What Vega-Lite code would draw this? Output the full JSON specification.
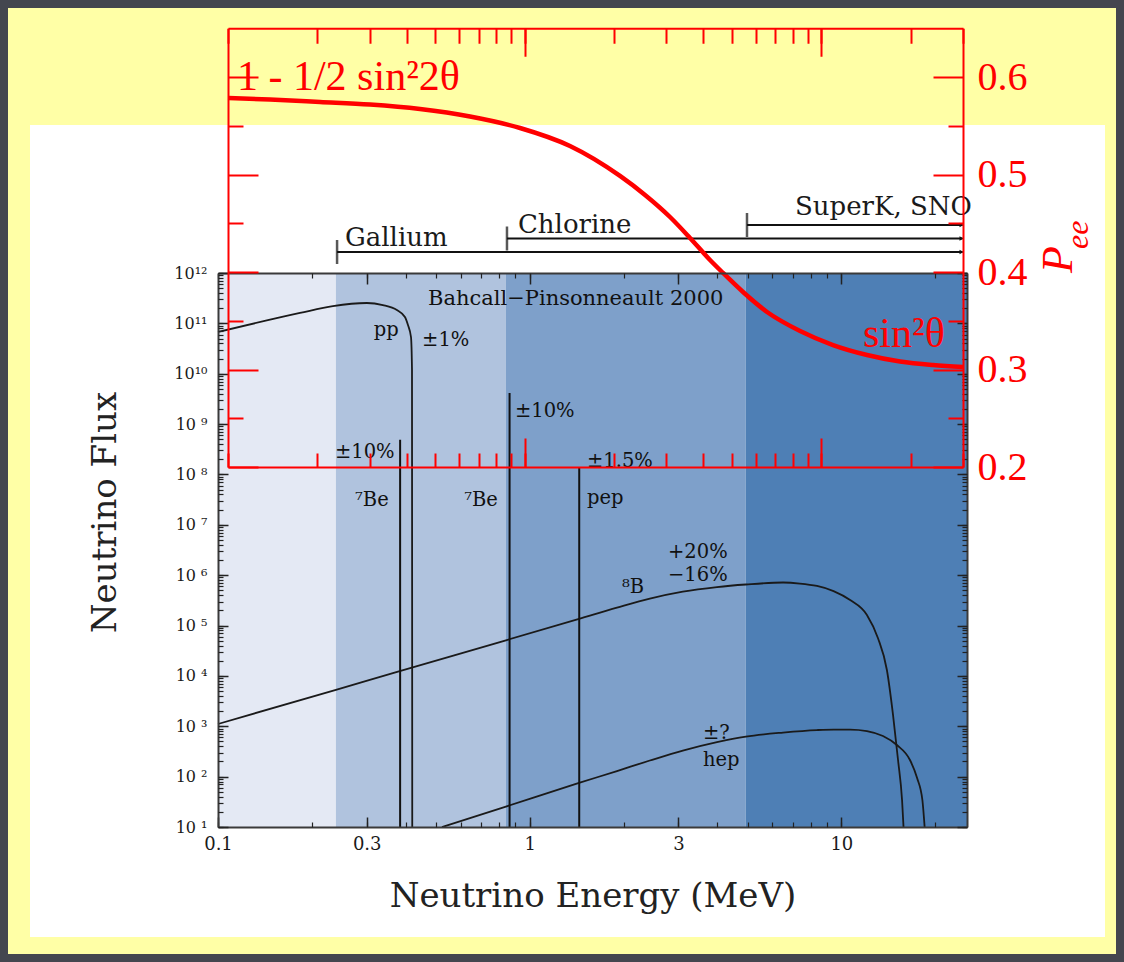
{
  "$schema": "https://vega.github.io/schema/vega-lite/v6.json",
  "background": "#44464f",
  "padding": 8,
  "spacing": 0,
  "bounds": "flush",
  "columns": 3,
  "config": {
    "axis": {"grid": false, "labelFlush": false, "labelOverlap": false, "labelBound": false},
    "view": {"stroke": null}
  },
  "datasets": {
    "bands": [
      {"band": "A", "E0": 0.1, "E1": 0.239},
      {"band": "B", "E0": 0.239, "E1": 0.839},
      {"band": "C", "E0": 0.839, "E1": 4.93},
      {"band": "D", "E0": 4.93, "E1": 25.3}
    ],
    "pp": [
      {"E": 0.1, "F": 6.74e10},
      {"E": 0.1833, "F": 1.61e11},
      {"E": 0.2337, "F": 2.21e11},
      {"E": 0.3004, "F": 2.54e11},
      {"E": 0.338, "F": 2.31e11},
      {"E": 0.3749, "F": 1.84e11},
      {"E": 0.3979, "F": 1.34e11},
      {"E": 0.4069, "F": 9.27e10},
      {"E": 0.4161, "F": 5.36e10},
      {"E": 0.4192, "F": 1.19e10},
      {"E": 0.42, "F": 10}
    ],
    "b8": [
      {"E": 0.1, "F": 1110},
      {"E": 0.239, "F": 5300},
      {"E": 0.378, "F": 12200},
      {"E": 0.839, "F": 51000},
      {"E": 1.44, "F": 136000},
      {"E": 1.906, "F": 227000},
      {"E": 2.43, "F": 344000},
      {"E": 3.1, "F": 473000},
      {"E": 3.99, "F": 582000},
      {"E": 4.94, "F": 653000},
      {"E": 6.5, "F": 715000},
      {"E": 7.36, "F": 683000},
      {"E": 8.35, "F": 610000},
      {"E": 9.44, "F": 484000},
      {"E": 10.67, "F": 321000},
      {"E": 12.08, "F": 162000},
      {"E": 13.1, "F": 56500},
      {"E": 14.0, "F": 13100},
      {"E": 14.65, "F": 1670},
      {"E": 15.2, "F": 214},
      {"E": 15.66, "F": 34},
      {"E": 15.83, "F": 10}
    ],
    "hep": [
      {"E": 0.523, "F": 10},
      {"E": 0.839, "F": 25.5},
      {"E": 1.44, "F": 75},
      {"E": 1.906, "F": 129},
      {"E": 2.43, "F": 209},
      {"E": 3.1, "F": 330},
      {"E": 3.99, "F": 486},
      {"E": 4.94, "F": 625},
      {"E": 6.5, "F": 751},
      {"E": 8.35, "F": 841},
      {"E": 9.44, "F": 861},
      {"E": 10.67, "F": 861},
      {"E": 12.08, "F": 804},
      {"E": 13.6, "F": 640},
      {"E": 15.07, "F": 424},
      {"E": 16.6, "F": 214},
      {"E": 17.5, "F": 94},
      {"E": 18.2, "F": 34},
      {"E": 18.5, "F": 10}
    ],
    "lines": [
      {"source": "7Be", "E": 0.384, "F": 4.86e8},
      {"source": "7Be", "E": 0.862, "F": 4.16e9},
      {"source": "pep", "E": 1.442, "F": 1.35e8}
    ],
    "notes": [
      {"label": "Bahcall−Pinsonneault 2000", "E": 0.4718, "F": 3.05e11},
      {"label": "pp", "E": 0.3158, "F": 7.38e10},
      {"label": "±1%", "E": 0.4516, "F": 4.67e10},
      {"label": "±10%", "E": 0.897, "F": 1.82e9},
      {"label": "±10%", "E": 0.2373, "F": 2.79e8},
      {"label": "±1.5%", "E": 1.527, "F": 1.85e8},
      {"label": "⁷Be", "E": 0.2752, "F": 3.11e7},
      {"label": "⁷Be", "E": 0.6163, "F": 3.11e7},
      {"label": "pep", "E": 1.527, "F": 3.4e7},
      {"label": "+20%", "E": 2.778, "F": 2.88e6},
      {"label": "−16%", "E": 2.778, "F": 1.01e6},
      {"label": "⁸B", "E": 1.978, "F": 5.8e5},
      {"label": "±?", "E": 3.597, "F": 735},
      {"label": "hep", "E": 3.597, "F": 214}
    ],
    "detectors": [
      {"detector": "SuperK, SNO", "threshold": 4.98},
      {"detector": "Chlorine", "threshold": 0.8456},
      {"detector": "Gallium", "threshold": 0.241}
    ],
    "detlabels": [
      {"detector": "SuperK, SNO", "E": 7.1},
      {"detector": "Chlorine", "E": 0.917},
      {"detector": "Gallium", "E": 0.2555}
    ],
    "pee": [
      {"E": 0.1, "P": 0.5785},
      {"E": 0.1385, "P": 0.5769},
      {"E": 0.2042, "P": 0.5744},
      {"E": 0.3011, "P": 0.5718},
      {"E": 0.4437, "P": 0.5672},
      {"E": 0.6541, "P": 0.5595},
      {"E": 0.9643, "P": 0.5477},
      {"E": 1.421, "P": 0.5292},
      {"E": 2.095, "P": 0.4985},
      {"E": 2.544, "P": 0.479},
      {"E": 3.088, "P": 0.4564},
      {"E": 3.607, "P": 0.4349},
      {"E": 4.212, "P": 0.4123},
      {"E": 4.66, "P": 0.399},
      {"E": 5.442, "P": 0.3795},
      {"E": 6.557, "P": 0.359},
      {"E": 8.472, "P": 0.3395},
      {"E": 10.94, "P": 0.3251},
      {"E": 14.25, "P": 0.3149},
      {"E": 18.41, "P": 0.3082},
      {"E": 23.77, "P": 0.3046},
      {"E": 30, "P": 0.3026}
    ],
    "rednotes": [
      {"label": "1 - 1/2 sin²2θ", "E": 0.1072, "P": 0.5867},
      {"label": "sin²θ", "E": 13.81, "P": 0.3231}
    ],
    "peelabel": [{"label": "P", "E": 69.9, "P": 0.399}],
    "peesub": [{"label": "ee", "E": 79.2, "P": 0.4236}],
    "empty": []
  },
  "concat": [
    {"width": 22, "height": 117, "view": {"fill": "#ffffa6", "stroke": null}, "data": {"name": "empty"}, "mark": "point", "encoding": {}},
    {"width": 1075, "height": 117, "view": {"fill": "#ffffa6", "stroke": null}, "data": {"name": "empty"}, "mark": "point", "encoding": {}},
    {"width": 11, "height": 117, "view": {"fill": "#ffffa6", "stroke": null}, "data": {"name": "empty"}, "mark": "point", "encoding": {}},
    {"width": 22, "height": 812, "view": {"fill": "#ffffa6", "stroke": null}, "data": {"name": "empty"}, "mark": "point", "encoding": {}},
    {
      "width": 1075,
      "height": 812,
      "view": {"fill": "#ffffff", "stroke": null},
      "layer": [
        {
          "layer": [
            {
              "data": {"name": "bands"},
              "mark": {"type": "rect"},
              "encoding": {
                "x": {"field": "E0", "type": "quantitative", "scale": {"type": "log", "domain": [0.1, 25.3], "range": [188, 937], "nice": false}, "axis": null},
                "x2": {"field": "E1"},
                "y": {"datum": 10, "type": "quantitative", "scale": {"type": "log", "domain": [10, 1000000000000], "range": [702, 148], "nice": false}, "axis": null},
                "y2": {"datum": 1000000000000},
                "color": {"field": "band", "type": "nominal", "scale": {"domain": ["A", "B", "C", "D"], "range": ["#e4e9f4", "#b0c3de", "#7ea0ca", "#4e7fb5"]}, "legend": null}
              }
            },
            {
              "data": {"name": "pp"},
              "mark": {"type": "line", "color": "#1a1a1a", "strokeWidth": 1.8, "interpolate": "monotone"},
              "encoding": {
                "x": {"field": "E", "type": "quantitative", "scale": {"type": "log", "domain": [0.1, 25.3], "range": [188, 937], "nice": false},
                  "axis": {"orient": "bottom", "offset": -110, "values": [0.1, 0.3, 1, 3, 10], "format": "~g", "domain": true, "domainColor": "#3a3a3a", "domainWidth": 2, "tickSize": -10, "tickWidth": 1.5, "tickColor": "#222222", "labelFont": "DejaVu Serif", "labelFontSize": 18, "labelColor": "#1a1a1a", "labelPadding": 18, "labelBaseline": "top", "labelFlush": false, "labelOverlap": false, "title": "Neutrino Energy (MeV)", "titleFont": "DejaVu Serif", "titleFontSize": 34, "titleFontWeight": "normal", "titleColor": "#222222", "titleY": 69, "titleBaseline": "middle", "zindex": 1}},
                "y": {"field": "F", "type": "quantitative", "scale": {"type": "log", "domain": [10, 1000000000000], "range": [702, 148], "nice": false},
                  "axis": {"orient": "left", "offset": -188, "values": [10, 100, 1000, 10000, 100000, 1000000, 10000000, 100000000, 1000000000, 10000000000, 100000000000, 1000000000000], "labelExpr": "['10⁰','10 ¹','10 ²','10 ³','10 ⁴','10 ⁵','10 ⁶','10 ⁷','10 ⁸','10 ⁹','10¹⁰','10¹¹','10¹²'][round(log(datum.value)/LN10)]", "domain": true, "domainColor": "#3a3a3a", "domainWidth": 2, "tickSize": -10, "tickWidth": 1.5, "tickColor": "#222222", "labelFont": "DejaVu Serif", "labelFontSize": 16, "labelColor": "#1a1a1a", "labelPadding": 21, "labelFlush": false, "labelOverlap": false, "title": "Neutrino Flux", "titleFont": "DejaVu Serif", "titleFontSize": 34, "titleFontWeight": "normal", "titleColor": "#222222", "titleX": -113, "titleY": 387, "titleAngle": 270, "titleBaseline": "middle", "zindex": 1}}
              }
            },
            {
              "data": {"name": "b8"},
              "mark": {"type": "line", "color": "#1a1a1a", "strokeWidth": 1.8, "interpolate": "monotone"},
              "encoding": {
                "x": {"field": "E", "type": "quantitative", "scale": {"type": "log", "domain": [0.1, 25.3], "range": [188, 937], "nice": false},
                  "axis": {"orient": "bottom", "offset": -110, "tickCount": 20, "domain": false, "labels": false, "tickSize": -5, "tickWidth": 1.2, "tickColor": "#222222", "title": null, "zindex": 1}},
                "y": {"field": "F", "type": "quantitative", "scale": {"type": "log", "domain": [10, 1000000000000], "range": [702, 148], "nice": false},
                  "axis": {"orient": "left", "offset": -188, "tickCount": 20, "domain": false, "labels": false, "tickSize": -5, "tickWidth": 1.2, "tickColor": "#222222", "title": null, "zindex": 1}}
              }
            },
            {
              "data": {"name": "hep"},
              "mark": {"type": "line", "color": "#1a1a1a", "strokeWidth": 1.8, "interpolate": "monotone"},
              "encoding": {
                "x": {"field": "E", "type": "quantitative", "scale": {"type": "log", "domain": [0.1, 25.3], "range": [188, 937], "nice": false},
                  "axis": {"orient": "top", "offset": -148, "values": [0.3, 1, 3, 10], "domain": true, "domainColor": "#3a3a3a", "domainWidth": 2, "labels": false, "tickSize": -11, "tickWidth": 1.5, "tickColor": "#222222", "title": null, "zindex": 1}},
                "y": {"field": "F", "type": "quantitative", "scale": {"type": "log", "domain": [10, 1000000000000], "range": [702, 148], "nice": false},
                  "axis": {"orient": "right", "offset": -138, "values": [10, 100, 1000, 10000, 100000, 1000000, 10000000, 100000000, 1000000000, 10000000000, 100000000000, 1000000000000], "domain": true, "domainColor": "#3a3a3a", "domainWidth": 2, "labels": false, "tickSize": -10, "tickWidth": 1.5, "tickColor": "#222222", "title": null, "zindex": 1}}
              }
            },
            {
              "data": {"name": "lines"},
              "mark": {"type": "rule", "color": "#111111", "strokeWidth": 2},
              "encoding": {
                "x": {"field": "E", "type": "quantitative", "scale": {"type": "log", "domain": [0.1, 25.3], "range": [188, 937], "nice": false},
                  "axis": {"orient": "top", "offset": -148, "tickCount": 20, "domain": false, "labels": false, "tickSize": -5, "tickWidth": 1.2, "tickColor": "#222222", "title": null, "zindex": 1}},
                "y": {"field": "F", "type": "quantitative", "scale": {"type": "log", "domain": [10, 1000000000000], "range": [702, 148], "nice": false},
                  "axis": {"orient": "right", "offset": -138, "tickCount": 20, "domain": false, "labels": false, "tickSize": -5, "tickWidth": 1.2, "tickColor": "#222222", "title": null, "zindex": 1}},
                "y2": {"datum": 10}
              }
            },
            {
              "data": {"name": "notes"},
              "transform": [{"filter": "datum.label != 'Bahcall−Pinsonneault 2000'"}],
              "mark": {"type": "text", "align": "left", "baseline": "middle", "font": "DejaVu Serif", "fontSize": 19.5, "color": "#111111"},
              "encoding": {
                "x": {"field": "E", "type": "quantitative", "scale": {"type": "log", "domain": [0.1, 25.3], "range": [188, 937], "nice": false}, "axis": null},
                "y": {"field": "F", "type": "quantitative", "scale": {"type": "log", "domain": [10, 1000000000000], "range": [702, 148], "nice": false}, "axis": null},
                "text": {"field": "label"}
              }
            },
            {
              "data": {"name": "notes"},
              "transform": [{"filter": "datum.label == 'Bahcall−Pinsonneault 2000'"}],
              "mark": {"type": "text", "align": "left", "baseline": "middle", "font": "DejaVu Serif", "fontSize": 21, "color": "#111111"},
              "encoding": {
                "x": {"field": "E", "type": "quantitative", "scale": {"type": "log", "domain": [0.1, 25.3], "range": [188, 937], "nice": false}, "axis": null},
                "y": {"field": "F", "type": "quantitative", "scale": {"type": "log", "domain": [10, 1000000000000], "range": [702, 148], "nice": false}, "axis": null},
                "text": {"field": "label"}
              }
            }
          ],
          "resolve": {"axis": {"x": "independent", "y": "independent"}}
        },
        {
          "layer": [
            {
              "data": {"name": "detectors"},
              "mark": {"type": "rule", "color": "#111111", "strokeWidth": 2},
              "encoding": {
                "x": {"field": "threshold", "type": "quantitative", "scale": {"type": "log", "domain": [0.1, 25.3], "range": [188, 937], "nice": false}, "axis": null},
                "x2": {"datum": 24.5},
                "y": {"field": "detector", "type": "nominal", "scale": {"type": "point", "domain": ["SuperK, SNO", "Chlorine", "Gallium"], "range": [100, 127], "padding": 0}, "axis": null}
              }
            },
            {
              "data": {"name": "detectors"},
              "mark": {"type": "tick", "color": "#111111", "size": 24, "thickness": 2.5},
              "encoding": {
                "x": {"field": "threshold", "type": "quantitative", "scale": {"type": "log", "domain": [0.1, 25.3], "range": [188, 937], "nice": false}, "axis": null},
                "y": {"field": "detector", "type": "nominal", "scale": {"type": "point", "domain": ["SuperK, SNO", "Chlorine", "Gallium"], "range": [100, 127], "padding": 0}, "axis": null}
              }
            },
            {
              "data": {"name": "detectors"},
              "mark": {"type": "point", "shape": "triangle-right", "filled": true, "size": 22, "color": "#111111", "opacity": 1},
              "encoding": {
                "x": {"datum": 24.3, "type": "quantitative", "scale": {"type": "log", "domain": [0.1, 25.3], "range": [188, 937], "nice": false}, "axis": null},
                "y": {"field": "detector", "type": "nominal", "scale": {"type": "point", "domain": ["SuperK, SNO", "Chlorine", "Gallium"], "range": [100, 127], "padding": 0}, "axis": null}
              }
            },
            {
              "data": {"name": "detlabels"},
              "transform": [{"filter": "datum.detector != 'SuperK, SNO'"}],
              "mark": {"type": "text", "align": "left", "baseline": "alphabetic", "dy": -6, "font": "DejaVu Serif", "fontSize": 26, "color": "#1a1a1a"},
              "encoding": {
                "x": {"field": "E", "type": "quantitative", "scale": {"type": "log", "domain": [0.1, 25.3], "range": [188, 937], "nice": false}, "axis": null},
                "y": {"field": "detector", "type": "nominal", "scale": {"type": "point", "domain": ["SuperK, SNO", "Chlorine", "Gallium"], "range": [100, 127], "padding": 0}, "axis": null},
                "text": {"field": "detector"}
              }
            },
            {
              "data": {"name": "detlabels"},
              "transform": [{"filter": "datum.detector == 'SuperK, SNO'"}],
              "mark": {"type": "text", "align": "left", "baseline": "alphabetic", "dy": -10, "font": "DejaVu Serif", "fontSize": 26, "color": "#1a1a1a"},
              "encoding": {
                "x": {"field": "E", "type": "quantitative", "scale": {"type": "log", "domain": [0.1, 25.3], "range": [188, 937], "nice": false}, "axis": null},
                "y": {"field": "detector", "type": "nominal", "scale": {"type": "point", "domain": ["SuperK, SNO", "Chlorine", "Gallium"], "range": [100, 127], "padding": 0}, "axis": null},
                "text": {"field": "detector"}
              }
            }
          ]
        },
        {
          "layer": [
            {
              "data": {"name": "pee"},
              "mark": {"type": "line", "color": "#ff0000", "strokeWidth": 4.5, "interpolate": "monotone"},
              "encoding": {
                "x": {"field": "E", "type": "quantitative", "scale": {"type": "log", "domain": [0.1, 30], "range": [198, 933], "nice": false},
                  "axis": {"orient": "bottom", "offset": -470, "values": [1, 10], "domain": true, "domainColor": "#ff0000", "domainWidth": 2, "labels": false, "tickSize": -29, "tickWidth": 2, "tickColor": "#ff0000", "title": null, "zindex": 2}},
                "y": {"field": "P", "type": "quantitative", "scale": {"type": "linear", "domain": [0.2, 0.65], "range": [342, -96.75], "nice": false, "zero": false},
                  "axis": {"orient": "right", "offset": -142, "values": [0.2, 0.3, 0.4, 0.5, 0.6], "format": ".1f", "domain": true, "domainColor": "#ff0000", "domainWidth": 2, "tickSize": -30, "tickWidth": 2, "tickColor": "#ff0000", "labelFont": "Liberation Serif", "labelFontSize": 40, "labelColor": "#ff0000", "labelPadding": 44, "labelBaseline": "middle", "labelAlign": "left", "labelFlush": false, "labelOverlap": false, "title": null, "zindex": 2}}
              }
            },
            {
              "data": {"name": "rednotes"},
              "mark": {"type": "text", "align": "left", "baseline": "alphabetic", "font": "Liberation Serif", "fontSize": 42, "color": "#ff0000"},
              "encoding": {
                "x": {"field": "E", "type": "quantitative", "scale": {"type": "log", "domain": [0.1, 30], "range": [198, 933], "nice": false},
                  "axis": {"orient": "top", "offset": 96.75, "values": [1, 10], "domain": true, "domainColor": "#ff0000", "domainWidth": 2, "labels": false, "tickSize": -28, "tickWidth": 2, "tickColor": "#ff0000", "title": null, "zindex": 2}},
                "y": {"field": "P", "type": "quantitative", "scale": {"type": "linear", "domain": [0.2, 0.65], "range": [342, -96.75], "nice": false, "zero": false},
                  "axis": {"orient": "left", "offset": -198, "values": [0.2, 0.3, 0.4, 0.5, 0.6], "domain": true, "domainColor": "#ff0000", "domainWidth": 2, "labels": false, "tickSize": -30, "tickWidth": 2, "tickColor": "#ff0000", "title": null, "zindex": 2}},
                "text": {"field": "label"}
              }
            },
            {
              "data": {"name": "peelabel"},
              "mark": {"type": "text", "align": "left", "baseline": "alphabetic", "angle": 270, "font": "Liberation Serif", "fontStyle": "italic", "fontSize": 44, "color": "#ff0000"},
              "encoding": {
                "x": {"field": "E", "type": "quantitative", "scale": {"type": "log", "domain": [0.1, 30], "range": [198, 933], "nice": false},
                  "axis": {"orient": "bottom", "offset": -470, "tickCount": 20, "domain": false, "labels": false, "tickSize": -14, "tickWidth": 2, "tickColor": "#ff0000", "title": null, "zindex": 2}},
                "y": {"field": "P", "type": "quantitative", "scale": {"type": "linear", "domain": [0.2, 0.65], "range": [342, -96.75], "nice": false, "zero": false},
                  "axis": {"orient": "right", "offset": -142, "values": [0.25, 0.35, 0.45, 0.55], "domain": false, "labels": false, "tickSize": -15, "tickWidth": 2, "tickColor": "#ff0000", "title": null, "zindex": 2}},
                "text": {"field": "label"}
              }
            },
            {
              "data": {"name": "peesub"},
              "mark": {"type": "text", "align": "left", "baseline": "alphabetic", "angle": 270, "font": "Liberation Serif", "fontStyle": "italic", "fontSize": 32, "color": "#ff0000"},
              "encoding": {
                "x": {"field": "E", "type": "quantitative", "scale": {"type": "log", "domain": [0.1, 30], "range": [198, 933], "nice": false},
                  "axis": {"orient": "top", "offset": 96.75, "tickCount": 20, "domain": false, "labels": false, "tickSize": -15, "tickWidth": 2, "tickColor": "#ff0000", "title": null, "zindex": 2}},
                "y": {"field": "P", "type": "quantitative", "scale": {"type": "linear", "domain": [0.2, 0.65], "range": [342, -96.75], "nice": false, "zero": false},
                  "axis": {"orient": "left", "offset": -198, "values": [0.25, 0.35, 0.45, 0.55], "domain": false, "labels": false, "tickSize": -15, "tickWidth": 2, "tickColor": "#ff0000", "title": null, "zindex": 2}},
                "text": {"field": "label"}
              }
            }
          ],
          "resolve": {"axis": {"x": "independent", "y": "independent"}}
        }
      ],
      "resolve": {
        "scale": {"x": "independent", "y": "independent"},
        "axis": {"x": "independent", "y": "independent"}
      }
    },
    {"width": 11, "height": 812, "view": {"fill": "#ffffa6", "stroke": null}, "data": {"name": "empty"}, "mark": "point", "encoding": {}},
    {"width": 22, "height": 17, "view": {"fill": "#ffffa6", "stroke": null}, "data": {"name": "empty"}, "mark": "point", "encoding": {}},
    {"width": 1075, "height": 17, "view": {"fill": "#ffffa6", "stroke": null}, "data": {"name": "empty"}, "mark": "point", "encoding": {}},
    {"width": 11, "height": 17, "view": {"fill": "#ffffa6", "stroke": null}, "data": {"name": "empty"}, "mark": "point", "encoding": {}}
  ]
}
